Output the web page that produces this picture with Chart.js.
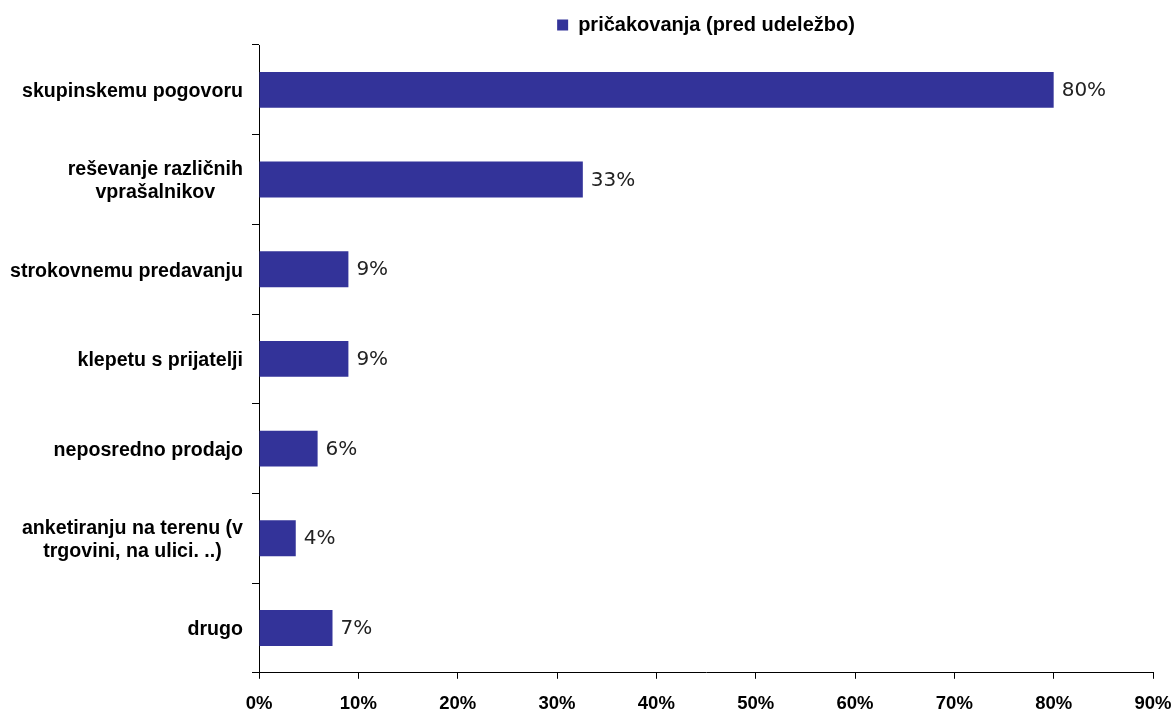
<!DOCTYPE html>
<html>
    <head>
        <script src="https://cdn.jsdelivr.net/npm/chart.js"></script>
        <title>Pričakovanja</title>
        <style>
            body { margin: 0; background: #fff; }
            #chartWrapper { width: 1175px; height: 712px; }
        </style>
    </head>
    <body>
        <div id="chartWrapper">
            <canvas id="myChart"></canvas>
        </div>

        <script>
            const categories = [
                ['skupinskemu pogovoru'],
                ['reševanje različnih', 'vprašalnikov'],
                ['strokovnemu predavanju'],
                ['klepetu s prijatelji'],
                ['neposredno prodajo'],
                ['anketiranju na terenu (v', 'trgovini, na ulici. ..)'],
                ['drugo']
            ]
            const seriesName = 'pričakovanja (pred udeležbo)'
            const seriesValues = [80, 32.6, 9, 9, 5.9, 3.7, 7.4]
            const xTicks = [0, 10, 20, 30, 40, 50, 60, 70, 80, 90]

            const labelFont = 'bold 19.6px "Liberation Sans", Arial, sans-serif'

            // category names, each line centred inside its own block
            const yLabels = {
                id: 'yLabels',
                afterDraw(chart){
                    const ctx = chart.ctx
                    const y = chart.scales.y
                    ctx.save()
                    ctx.font = labelFont
                    ctx.fillStyle = '#000'
                    ctx.textBaseline = 'middle'
                    ctx.textAlign = 'center'
                    const right = y.right - 16
                    categories.forEach(function(lines, i){
                        const cy = y.getPixelForValue(i)
                        const w = Math.max(...lines.map(l => ctx.measureText(l).width))
                        const lh = 23
                        lines.forEach(function(l, j){
                            ctx.fillText(l, right - w / 2, cy + (j - (lines.length - 1) / 2) * lh + 2)
                        })
                    })
                    ctx.restore()
                }
            }

            // value labels at the end of each bar
            const valueLabels = {
                id: 'valueLabels',
                afterDatasetsDraw(chart){
                    const ctx = chart.ctx
                    const meta = chart.getDatasetMeta(0)
                    ctx.save()
                    ctx.font = '20px "DejaVu Sans", Verdana, sans-serif'
                    ctx.fillStyle = '#222'
                    ctx.textBaseline = 'middle'
                    ctx.textAlign = 'left'
                    meta.data.forEach(function(bar, i){
                        ctx.fillText(Math.round(seriesValues[i]) + '%', bar.x + 8, bar.y + 1)
                    })
                    ctx.restore()
                }
            }

            const ctx = document.getElementById('myChart').getContext('2d')

            const myChart = new Chart(ctx, {
                type: 'bar',
                plugins: [yLabels, valueLabels],
                data: {
                    labels: categories.map(c => c.join(' ')),
                    datasets: [
                        {
                            label: seriesName,
                            data: seriesValues,
                            backgroundColor: '#333399',
                            borderWidth: 0,
                            barPercentage: 0.4,
                            categoryPercentage: 1
                        }
                    ]
                },
                options: {
                    indexAxis: 'y',
                    responsive: true,
                    maintainAspectRatio: false,
                    animation: false,
                    layout: {
                        padding: { left: 0, right: 0, top: 0, bottom: -17 }
                    },
                    plugins: {
                        tooltip: { enabled: false },
                        legend: {
                            position: 'top',
                            fullSize: false,
                            labels: {
                                boxWidth: 11,
                                boxHeight: 11,
                                color: '#000',
                                padding: 15,
                                font: { family: '"Liberation Sans", Arial, sans-serif', size: 20, weight: 'bold' }
                            }
                        }
                    },
                    scales: {
                        x: {
                            min: 0,
                            max: 90,
                            afterBuildTicks: function(scale){
                                scale.ticks = xTicks.map(v => ({ value: v }))
                            },
                            afterFit: function(scale){ scale.paddingRight = 22 },
                            grid: {
                                drawOnChartArea: false,
                                tickLength: 6,
                                color: '#000'
                            },
                            border: { color: '#000', width: 1 },
                            ticks: {
                                color: '#000',
                                padding: 14,
                                maxRotation: 0,
                                font: { family: '"Liberation Sans", Arial, sans-serif', size: 18.5, weight: 'bold' },
                                callback: function(v){ return v + '%' }
                            }
                        },
                        y: {
                            afterFit: function(scale){ scale.width = 259 },
                            grid: {
                                offset: true,
                                drawOnChartArea: false,
                                tickLength: 7,
                                color: '#000'
                            },
                            border: { color: '#000', width: 1 },
                            ticks: { display: false }
                        }
                    }
                }
            })
        </script>
    </body>
</html>
